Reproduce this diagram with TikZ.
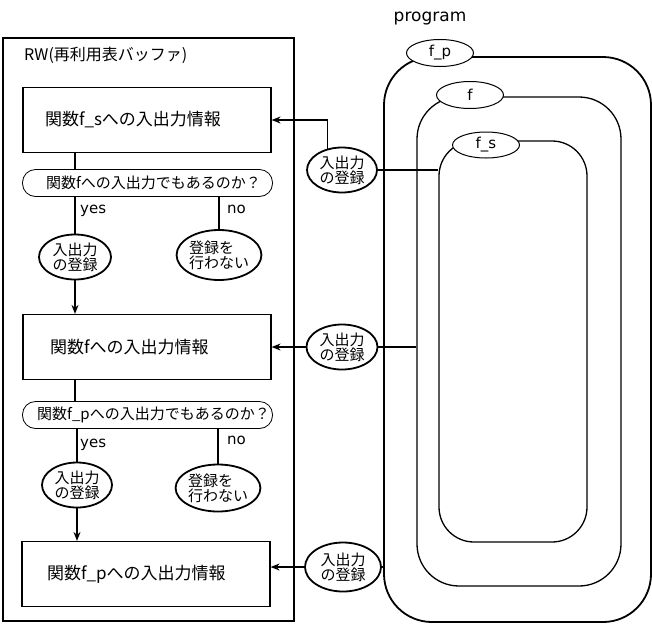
\documentclass[tikz,border=0pt]{standalone}
\usepackage{fontspec}
\setmainfont{DejaVu Sans}
\newfontfamily\cjk{Noto Sans CJK JP}
\usetikzlibrary{shapes.geometric,arrows.meta}
\tikzset{
  box/.style={draw, line width=1.2pt, minimum width=248pt, minimum height=65pt, inner ysep=0pt, inner xsep=22pt, text width=204pt, align=left, font=\cjk\fontsize{17}{20}\selectfont},
  pill/.style={draw, line width=0.8pt, rounded corners=13pt, minimum width=250pt, minimum height=27pt, inner sep=0pt, font=\cjk\fontsize{15}{18}\selectfont},
  oval/.style={ellipse, draw, line width=1.8pt, fill=white, inner sep=0pt, align=center, font=\cjk\fontsize{15}{19}\selectfont},
  fname/.style={ellipse, draw, line width=1pt, fill=white, minimum width=67pt, minimum height=27pt, inner sep=0pt, font=\fontsize{15}{18}\selectfont},
  scopebox/.style={draw, line width=1.3pt, inner sep=0pt},
  lbl/.style={font=\fontsize{15}{18}\selectfont, inner sep=0pt},
  conn/.style={line width=1.2pt},
  arr/.style={line width=1.2pt, -{Stealth[length=9pt,width=7pt]}}
}
\begin{document}
\begin{tikzpicture}[x=1pt,y=-1pt]
\useasboundingbox (0,0) rectangle (652,635);
% RW frame
\draw[line width=1.3pt] (3,38) rectangle (294,621);
\node[anchor=west, inner sep=0pt, font=\cjk\fontsize{16}{19}\selectfont] (rw) at (24,55) {RW(再利用表バッファ)};
% boxes
\node[box] (box1) at (147,120) {関数f\_sへの入出力情報};
\node[pill] (pill1) at (147.5,183) {\hspace*{12pt}関数fへの入出力でもあるのか？};
\node[oval, minimum width=72pt, minimum height=45pt] (yes1) at (75,257) {入出力\\[-4pt]の登録};
\node[oval, minimum width=78pt, minimum height=50pt, align=left] (no1) at (219,255) {登録を\\[-4pt]行わない};
\node[box] (box2) at (147,347) {\hspace*{5pt}関数fへの入出力情報};
\node[pill] (pill2) at (147.5,415) {\hspace*{12pt}関数f\_pへの入出力でもあるのか？};
\node[oval, minimum width=70pt, minimum height=45pt] (yes2) at (77,485) {入出力\\[-4pt]の登録};
\node[oval, minimum width=79pt, minimum height=47pt, align=left] (no2) at (218,488) {登録を\\[-4pt]行わない};
\node[box] (box3) at (146,574) {\hspace*{3pt}関数f\_pへの入出力情報};
% yes/no labels
\node[lbl, anchor=west] (yesl1) at (80,211) {yes};
\node[lbl, anchor=west] (nol1) at (227,209) {no};
\node[lbl, anchor=west] (yesl2) at (80,445) {yes};
\node[lbl, anchor=west] (nol2) at (227,440) {no};
% flow connectors
\draw[conn] (box1.south -| yes1) -- (pill1.north -| yes1);
\draw[conn] (pill1.south -| yes1) -- (yes1.north);
\draw[conn] (pill1.south -| no1) -- (no1.north);
\draw[arr] (yes1.south) -- (box2.north -| yes1);
\draw[conn] (box2.south -| yes1) -- (pill2.north -| yes1);
\draw[conn] (pill2.south -| yes2) -- (yes2.north);
\draw[conn] (pill2.south -| no2) -- (no2.north);
\draw[arr] (yes2.south) -- (box3.north -| yes2);
% program scopes
\node[font=\fontsize{17}{20}\selectfont, inner sep=0pt] (prog) at (430,19) {program};
\node[scopebox, line width=1.8pt, rounded corners=48pt, minimum width=267pt, minimum height=565pt] (fp) at (517.5,339.5) {};
\node[scopebox, rounded corners=42pt, minimum width=204pt, minimum height=489pt] (fm) at (519,341.5) {};
\node[scopebox, rounded corners=35pt, minimum width=148pt, minimum height=401pt] (fs) at (513,341.5) {};
\node[fname] (lfp) at (440,53) {f\_p};
\node[fname] (lf) at (470,95) {f};
\node[fname, minimum height=26pt] (lfs) at (486,145) {f\_s};
% registration ovals on the right
\node[oval, minimum width=70pt, minimum height=45pt] (r1) at (342,170) {入出力\\[-4pt]の登録};
\node[oval, minimum width=71pt, minimum height=45pt] (r2) at (342,347) {入出力\\[-4pt]の登録};
\node[oval, minimum width=76pt, minimum height=49pt] (r3) at (343,567) {入出力\\[-4pt]の登録};
\draw[arr] (r1.124) |- (box1.east);
\draw[conn] (r1.east) -- (r1.east -| fs.west);
\draw[arr] (r2.west) -- (box2.east);
\draw[conn] (r2.east) -- (r2.east -| fm.west);
\draw[arr] (r3.west) -- (r3.west -| box3.east);
\draw[conn] (r3.east) -- (r3.east -| fp.west);
\end{tikzpicture}
\end{document}
